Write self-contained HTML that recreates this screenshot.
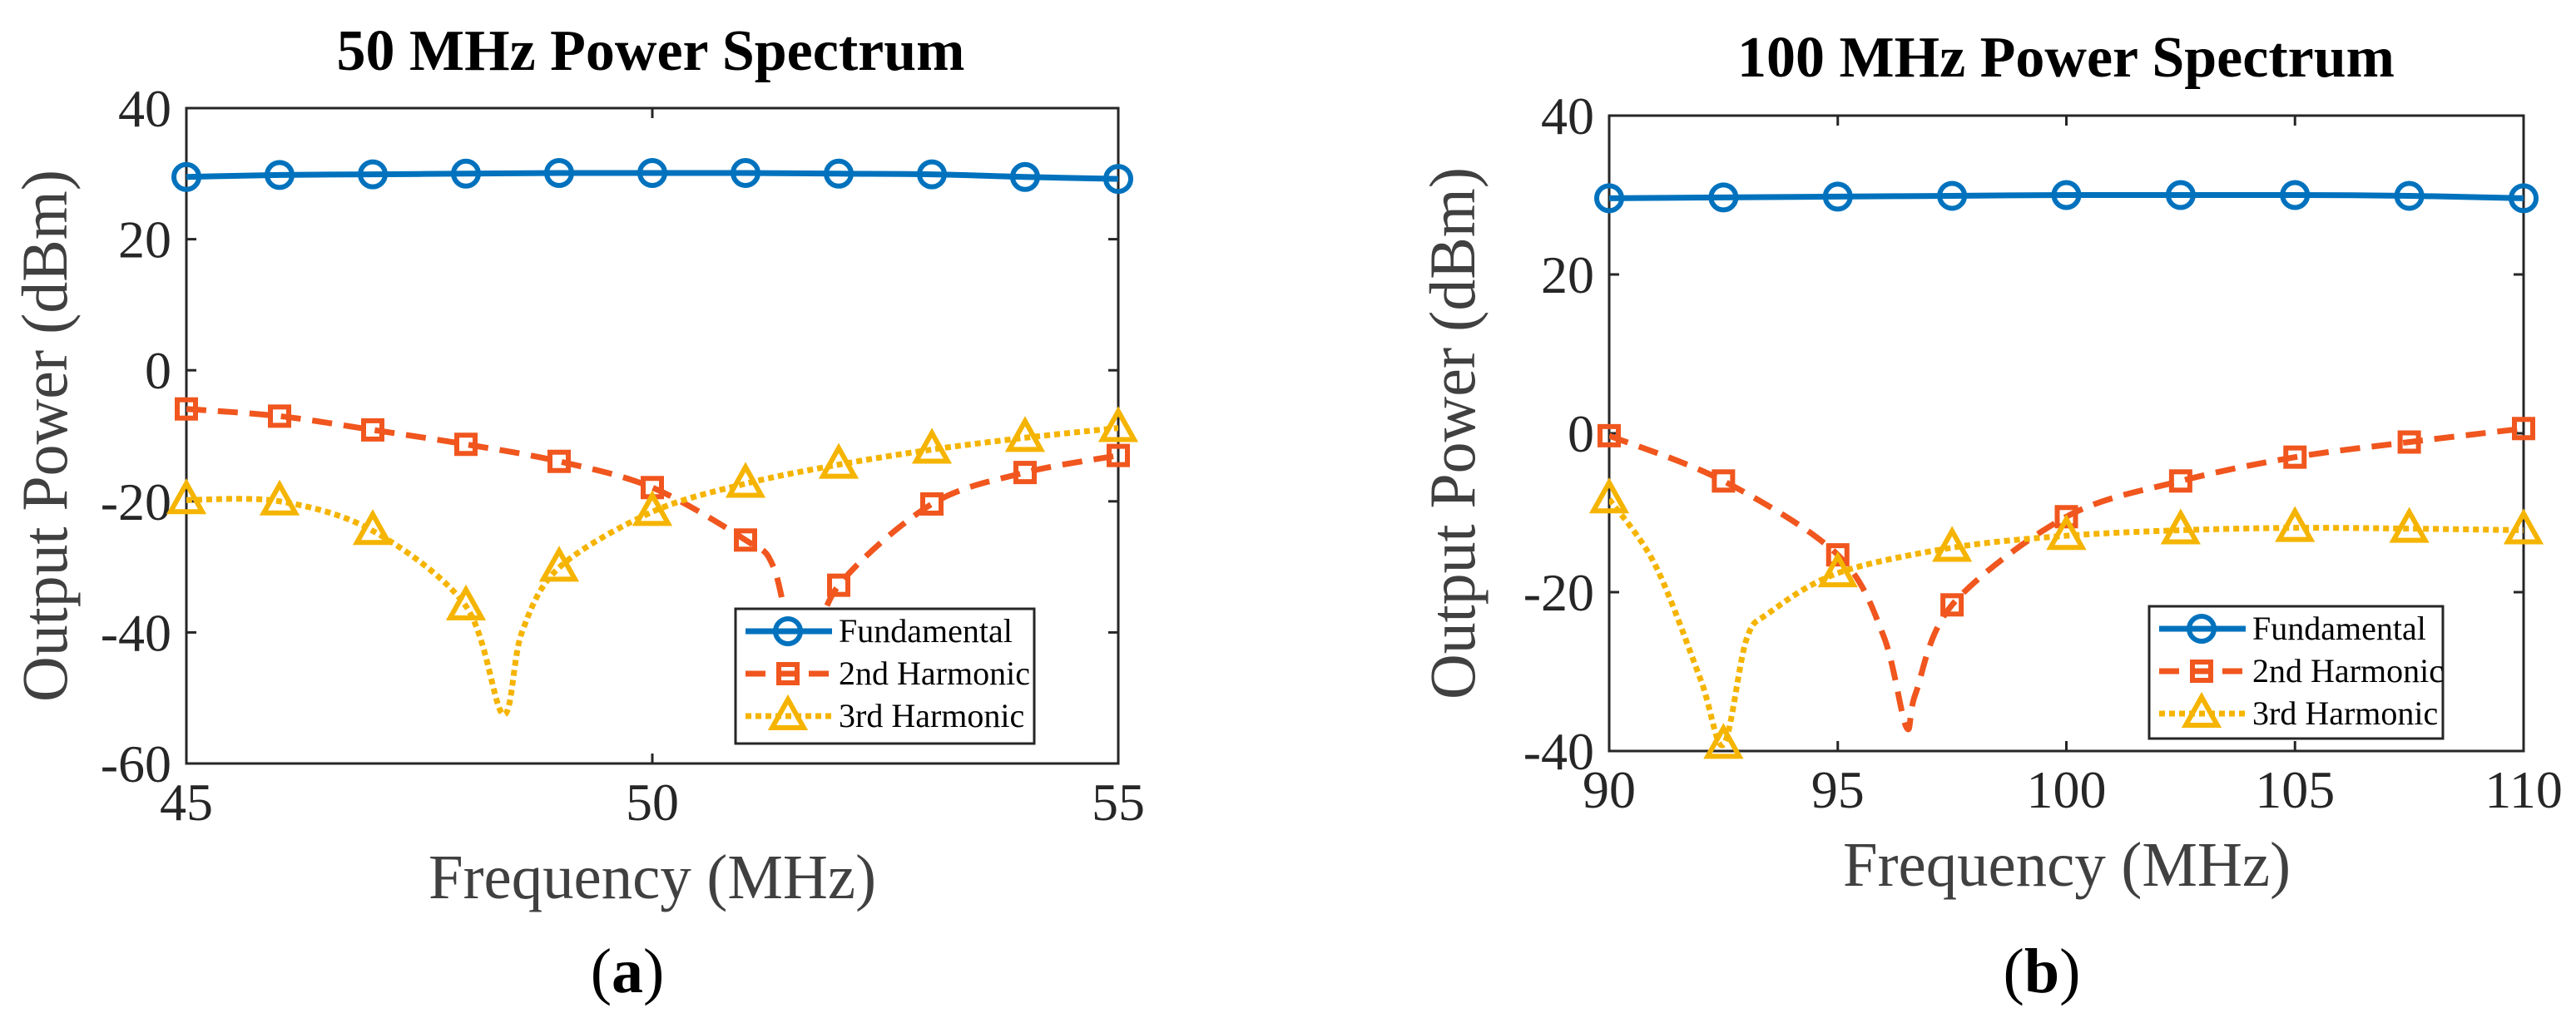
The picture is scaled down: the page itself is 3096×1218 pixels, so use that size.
<!DOCTYPE html>
<html><head><meta charset="utf-8">
<style>
html,body{margin:0;padding:0;background:#fff;overflow:hidden;}
svg{display:block;font-family:"Liberation Serif",serif;}
</style></head>
<body>
<svg id="chart" width="3096" height="1218" viewBox="0 0 3096 1218"></svg>
<script>
// Panel (a) data
const aX = [45,46,47,48,49,50,51,52,53,54,55];
const aFund = [29.5,29.8,29.9,30,30.1,30.1,30.1,30,29.9,29.5,29.2];
const aH2 = [-5.9,-7,-9.1,-11.3,-13.9,-17.9,-25.9,-32.8,-20.4,-15.6,-13];
const aH3 = [-19.8,-20,-24.5,-36,-30.1,-21.6,-17.3,-14.4,-12.1,-10.3,-8.8];
const aH2CurveX = [45,46,47,48,49,50,51,51.3,51.6,52,53,54,55];
const aH2CurveY = [-5.9,-7,-9.1,-11.3,-13.9,-17.9,-25.9,-30,-45,-32.8,-20.4,-15.6,-13];
const aH3CurveX = [45,46,47,48,48.4,48.6,49,50,51,52,53,54,55];
const aH3CurveY = [-19.8,-20,-24.5,-36,-52.5,-40,-30.1,-21.6,-17.3,-14.4,-12.1,-10.3,-8.8];
const aXTicks = [45,50,55];
const aYTicks = [-60,-40,-20,0,20,40];
// Panel (b) data
const bX = [90,92.5,95,97.5,100,102.5,105,107.5,110];
const bFund = [29.6,29.7,29.8,29.9,30,30,30,29.9,29.6];
const bH2 = [-0.3,-6,-15.3,-21.6,-10.5,-6,-3,-1.1,0.6];
const bH3 = [-8.3,-39.2,-17.6,-14.4,-12.9,-12.2,-11.9,-12,-12.2];
const bH2CurveX = [90,92.5,95,96,96.5,96.7,97.5,100,102.5,105,107.5,110];
const bH2CurveY = [-0.3,-6,-15.3,-25.5,-37,-32.8,-21.6,-10.5,-6,-3,-1.1,0.6];
const bH3CurveX = [90,91,92,92.5,93,93.5,95,97.5,100,102.5,105,107.5,110];
const bH3CurveY = [-8.3,-16.5,-31,-39.2,-26,-22.6,-17.6,-14.4,-12.9,-12.2,-11.9,-12,-12.2];
const bXTicks = [90,95,100,105,110];
const bYTicks = [-40,-20,0,20,40];

const NS = "http://www.w3.org/2000/svg";
const svg = document.getElementById('chart');
const C_BLUE = "#0072BD", C_ORANGE = "#F0561E", C_YELLOW = "#F5B400";
function mk(tag, attrs, parent){
  const e = document.createElementNS(NS, tag);
  for (const k in attrs) e.setAttribute(k, attrs[k]);
  (parent||svg).appendChild(e);
  return e;
}
function smoothPath(pts){
  let d = "M" + pts[0][0] + "," + pts[0][1];
  for (let i=0;i<pts.length-1;i++){
    const p0 = pts[Math.max(i-1,0)], p1 = pts[i], p2 = pts[i+1], p3 = pts[Math.min(i+2,pts.length-1)];
    const t = 0.16;
    const c1x = p1[0] + (p2[0]-p0[0])*t, c1y = p1[1] + (p2[1]-p0[1])*t;
    const c2x = p2[0] - (p3[0]-p1[0])*t, c2y = p2[1] - (p3[1]-p1[1])*t;
    d += " C" + c1x + "," + c1y + " " + c2x + "," + c2y + " " + p2[0] + "," + p2[1];
  }
  return d;
}
function marker(g, type, x, y, color){
  let m;
  if (type === 'circle') m = mk('circle', {cx:x, cy:y, r:15, fill:'none', stroke:color, 'stroke-width':6}, g);
  else if (type === 'square') m = mk('rect', {x:x-11, y:y-11, width:22, height:22, fill:'none', stroke:color, 'stroke-width':6}, g);
  else m = mk('polygon', {points:(x)+","+(y-20)+" "+(x-19)+","+(y+14)+" "+(x+19)+","+(y+14), fill:'none', stroke:color, 'stroke-width':6}, g);
  return m;
}
function panel(o){
  const g = mk('g', {});
  
  
  const sx = v => o.L + (v - o.xmin) / (o.xmax - o.xmin) * (o.R - o.L);
  const sy = v => o.B - (v - o.ymin) / (o.ymax - o.ymin) * (o.B - o.T);
  const clipId = o.id + '-clip';
  const cp = mk('clipPath', {id:clipId}, g);
  mk('rect', {x:o.L, y:o.T, width:o.R-o.L, height:o.B-o.T}, cp);
  const title = mk('text', {x:o.titleX, y:o.titleY, 'text-anchor':'middle', 'font-size':70, 'font-weight':'bold', fill:'#000'}, g);
  title.textContent = o.title;
  
  
  mk('rect', {x:o.L, y:o.T, width:o.R-o.L, height:o.B-o.T, fill:'#fff', stroke:'#262626', 'stroke-width':3}, g);
  o.xticks.forEach(v => {
    const x = sx(v);
    mk('line', {x1:x, y1:o.B, x2:x, y2:o.B-12, stroke:'#262626', 'stroke-width':3}, g);
    mk('line', {x1:x, y1:o.T, x2:x, y2:o.T+12, stroke:'#262626', 'stroke-width':3}, g);
    const t = mk('text', {x:x, y:o.B+68, 'text-anchor':'middle', 'font-size':64, fill:'#262626'}, g);
    t.textContent = v;
    
    
  });
  o.yticks.forEach(v => {
    const y = sy(v);
    mk('line', {x1:o.L, y1:y, x2:o.L+12, y2:y, stroke:'#262626', 'stroke-width':3}, g);
    mk('line', {x1:o.R, y1:y, x2:o.R-12, y2:y, stroke:'#262626', 'stroke-width':3}, g);
    const t = mk('text', {x:o.L-18, y:y+22, 'text-anchor':'end', 'font-size':64, fill:'#262626'}, g);
    t.textContent = v;
    
    
  });
  const xl = mk('text', {x:o.xlX, y:o.B+162, 'text-anchor':'middle', 'font-size':76, fill:'#404040', textLength:538, lengthAdjust:'spacingAndGlyphs'}, g);
  xl.textContent = 'Frequency (MHz)';
  
  
  const yx = o.ylX, yy = (o.T+o.B)/2;
  const yl = mk('text', {x:yx, y:yy, 'text-anchor':'middle', 'font-size':78, fill:'#404040', textLength:640, lengthAdjust:'spacingAndGlyphs', transform:'rotate(-90 '+yx+' '+yy+')'}, g);
  yl.textContent = 'Output Power (dBm)';
  
  
  const pl = mk('text', {x:o.xlX - 30, y:1193, 'text-anchor':'middle', 'font-size':76, fill:'#000'}, g);
  pl.innerHTML = '(<tspan font-weight="bold">' + o.tag + '</tspan>)';
  
  

  const plot = mk('g', {'clip-path':'url(#'+clipId+')'}, g);
  const series = [
    {name:'fundamental', x:o.x, y:o.fund, cx:o.x, cy:o.fund, color:C_BLUE, dash:'', m:'circle'},
    {name:'2nd-harmonic', x:o.x, y:o.h2, cx:o.h2cx, cy:o.h2cy, color:C_ORANGE, dash:'24 14', m:'square'},
    {name:'3rd-harmonic', x:o.x, y:o.h3, cx:o.h3cx, cy:o.h3cy, color:C_YELLOW, dash:'7 5', m:'triangle'}
  ];
  series.forEach(s => {
    const pts = s.cx.map((v,i) => [sx(v), sy(s.cy[i])]);
    const p = mk('path', {d:smoothPath(pts), fill:'none', stroke:s.color, 'stroke-width':7, 'stroke-dasharray':s.dash}, plot);
    
    
  });
  series.forEach(s => {
    s.x.forEach((v,i) => {
      const m = marker(g, s.m, sx(v), sy(s.y[i]), s.color);
      
      
    });
  });
  const lg = mk('g', {}, g);
  
  
  mk('rect', {x:o.lx, y:o.ly, width:o.lw, height:o.lh, fill:'#fff', stroke:'#262626', 'stroke-width':3}, lg);
  const labels = ['Fundamental','2nd Harmonic','3rd Harmonic'];
  series.forEach((s,i) => {
    const y = o.ly + 27 + i*51;
    const e = mk('g', {}, lg);
    
    
    mk('line', {x1:o.lx+12, y1:y, x2:o.lx+116, y2:y, stroke:s.color, 'stroke-width':7, 'stroke-dasharray':s.dash}, e);
    marker(e, s.m, o.lx+63, y, s.color);
    const t = mk('text', {x:o.lx+124, y:y+13, 'font-size':40, fill:'#000'}, e);
    t.textContent = labels[i];
  });
}
panel({id:'panel-a', title:'50 MHz Power Spectrum', tag:'a', L:224, R:1344, T:130, B:918,
  titleX:782, titleY:84, xlX:784, ylX:80,
  xmin:45, xmax:55, ymin:-60, ymax:40, xticks:aXTicks, yticks:aYTicks,
  x:aX, fund:aFund, h2:aH2, h3:aH3, h2cx:aH2CurveX, h2cy:aH2CurveY, h3cx:aH3CurveX, h3cy:aH3CurveY,
  lx:884, ly:732, lw:359, lh:162});
panel({id:'panel-b', title:'100 MHz Power Spectrum', tag:'b', L:1934, R:3033, T:139, B:903,
  titleX:2483, titleY:92, xlX:2484, ylX:1772,
  xmin:90, xmax:110, ymin:-40, ymax:40, xticks:bXTicks, yticks:bYTicks,
  x:bX, fund:bFund, h2:bH2, h3:bH3, h2cx:bH2CurveX, h2cy:bH2CurveY, h3cx:bH3CurveX, h3cy:bH3CurveY,
  lx:2583, ly:729, lw:353, lh:159});
</script>
</body></html>
